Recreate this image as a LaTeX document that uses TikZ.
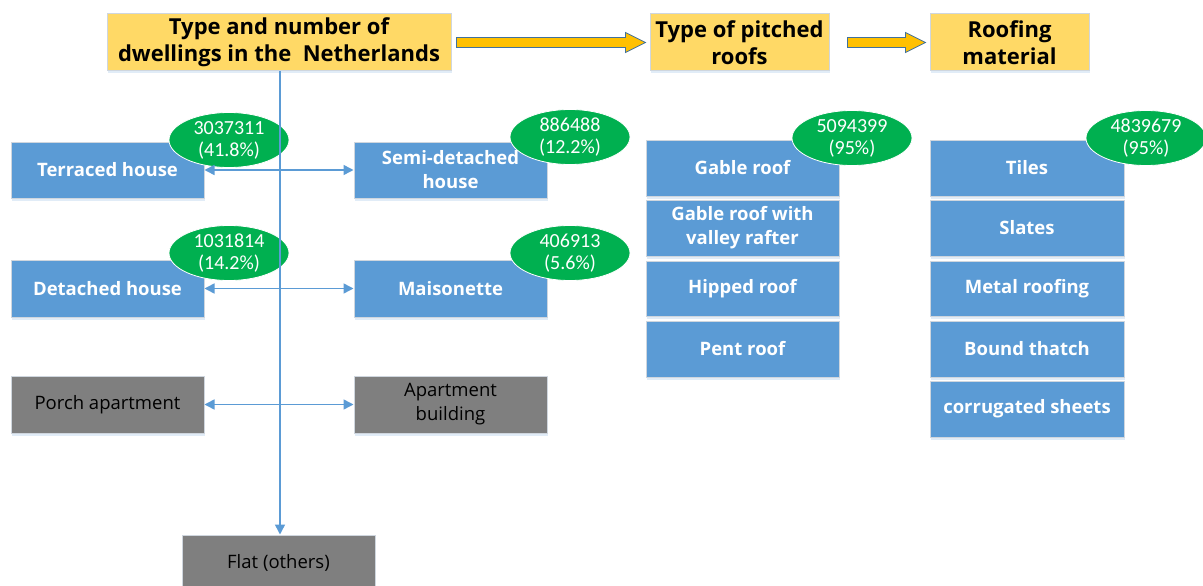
\documentclass[tikz,border=0pt]{standalone}
\usepackage{fontspec}
\setmainfont{Open Sans}
\newfontfamily\numfont{Carlito}
\usetikzlibrary{calc,shadows,shapes.geometric,arrows.meta}

\definecolor{hdrfill}{HTML}{FFD966}
\definecolor{boxblue}{HTML}{5B9BD5}
\definecolor{boxgray}{HTML}{7F7F7F}
\definecolor{taggreen}{HTML}{00B050}
\definecolor{arrowfill}{HTML}{FFC000}
\definecolor{arrowedge}{HTML}{41719C}
\definecolor{lineblue}{HTML}{5B9BD5}
\definecolor{edgegray}{HTML}{CFD6DE}

\tikzset{
  base/.style={draw=edgegray, line width=1pt, inner sep=2pt, align=center,
    minimum width=193pt, minimum height=56pt,
    drop shadow={shadow xshift=1pt, shadow yshift=-2.5pt, opacity=0.18, fill=lineblue}},
  hdr/.style={base, fill=hdrfill, text=black, minimum height=57pt,
    font=\fontsize{22}{27}\selectfont\bfseries},
  bluebox/.style={base, fill=boxblue, text=white,
    font=\fontsize{18.5}{24}\selectfont\bfseries},
  graybox/.style={base, fill=boxgray, text=black,
    font=\fontsize{18.5}{24}\selectfont},
  tag/.style={ellipse, fill=taggreen, draw=white, line width=0.8pt,
    minimum width=120pt, minimum height=55pt, inner sep=0pt, align=center,
    text=white, font=\numfont\fontsize{20}{22}\selectfont},
  link/.style={draw=lineblue, line width=1.5pt},
  tip/.style={-{Triangle[length=10pt,width=10pt]}},
  twotips/.style={{Triangle[length=10pt,width=10pt]}-{Triangle[length=10pt,width=10pt]}},
  blockarrow/.style={fill=arrowfill, draw=arrowedge, line width=0.8pt, line join=miter},
}

% yellow block arrow from node #1 to node #2
\newcommand{\flowarrow}[3]{%
  \draw[blockarrow] ($(#1.east)+(#3,-5)$) -- ($(#2.west)+(-24,-5)$)
    -- ($(#2.west)+(-24,-10)$) -- ($(#2.west)+(-4,0)$)
    -- ($(#2.west)+(-24,10)$) -- ($(#2.west)+(-24,5)$)
    -- ($(#1.east)+(#3,5)$) -- cycle;}

\begin{document}
\begin{tikzpicture}[x=1pt, y=-1pt]
\useasboundingbox[fill=white] (0,0) rectangle (1203,586);

% headers
\node[hdr, minimum width=344pt] (h1) at (279,42.5) {Type and number of\\dwellings in the\ \ Netherlands};
\node[hdr, minimum width=179pt] (h2) at (739.5,42.5) {Type of pitched\\roofs};
\node[hdr, minimum width=159pt] (h3) at (1009.5,42.5) {Roofing\\material};

% dwelling types
\node[bluebox] (terr) at (107.5,170) {Terraced house};
\node[bluebox] (semi) at (450.5,170) {Semi-detached\\house};
\node[bluebox, minimum height=57pt] (det) at (107.5,288.5) {Detached house};
\node[bluebox, minimum height=57pt] (mais) at (450.5,288.5) {Maisonette};
\node[graybox, minimum height=57pt] (porch) at (107.5,404.5) {Porch apartment};
\node[graybox, minimum height=57pt] (apt) at (450.5,404.5) {Apartment\\building};
\node[graybox] (flat) at (278.5,563) {Flat (others)};

% roof types
\node[bluebox] (gable) at (742.5,168) {Gable roof};
\node[bluebox] (valley) at (742.5,228) {Gable roof with\\valley rafter};
\node[bluebox, minimum height=55pt] (hipped) at (742.5,288.5) {Hipped roof};
\node[bluebox] (pent) at (742.5,349) {Pent roof};

% roofing materials
\node[bluebox, minimum width=194pt] (tiles) at (1027,168) {Tiles};
\node[bluebox, minimum width=194pt] (slates) at (1027,228) {Slates};
\node[bluebox, minimum width=194pt, minimum height=55pt] (metal) at (1027,288.5) {Metal roofing};
\node[bluebox, minimum width=194pt] (bound) at (1027,349) {Bound thatch};
\node[bluebox, minimum width=194pt] (corr) at (1027,409) {corrugated sheets};

% counts
\node[tag] (tterr) at (229,140) {3037311\\(41.8\%)};
\node[tag] (tsemi) at (570,137) {886488\\(12.2\%)};
\node[tag] (tdet) at (229,253) {1031814\\(14.2\%)};
\node[tag] (tmais) at (570,253) {406913\\(5.6\%)};
\node[tag] (tgable) at (852,138) {5094399\\(95\%)};
\node[tag] (ttiles) at (1146,138) {4839679\\(95\%)};

% connectors
\draw[link, tip] ([xshift=1pt]h1.south) -- ([xshift=1.5pt]flat.north);
\draw[link, twotips] (terr.east) -- (semi.west);
\draw[link, twotips] (det.east) -- (mais.west);
\draw[link, twotips] (porch.east) -- (apt.west);

\flowarrow{h1}{h2}{5}
\flowarrow{h2}{h3}{18}
\end{tikzpicture}
\end{document}
